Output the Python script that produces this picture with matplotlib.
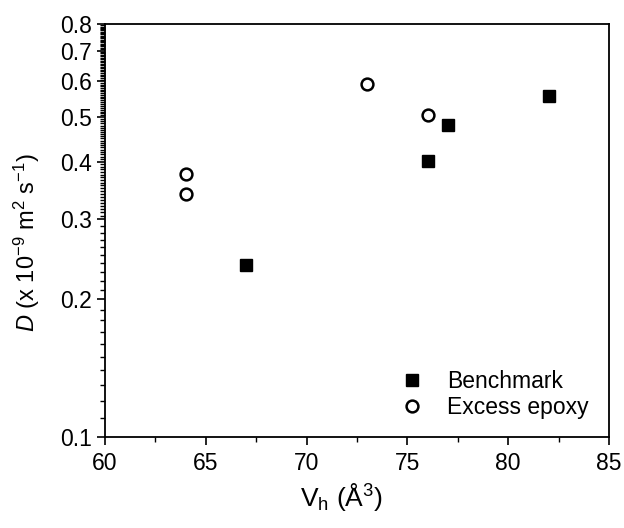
import numpy as np
import matplotlib
matplotlib.use("Agg")
import matplotlib.pyplot as plt
from matplotlib.ticker import FixedLocator, MultipleLocator, FormatStrFormatter, NullFormatter

plt.rcParams['font.family'] = ['Liberation Sans', 'DejaVu Sans']
plt.rcParams['mathtext.fontset'] = 'custom'
plt.rcParams['mathtext.rm'] = 'Liberation Sans'
plt.rcParams['mathtext.it'] = 'Liberation Sans:italic'

# hole volume (A^3) vs diffusion coefficient (1e-9 m^2/s)
bench_vh = [67, 76, 77, 82]
bench_d = [0.238, 0.402, 0.482, 0.557]
excess_vh = [64, 64, 73, 76]
excess_d = [0.376, 0.340, 0.592, 0.507]

y_major = [0.1, 0.2, 0.3, 0.4, 0.5, 0.6, 0.7, 0.8]

fig = plt.figure(figsize=(6.24, 5.28), dpi=100)
ax = fig.add_axes([0.168, 0.172, 0.808, 0.7825])

ax.plot(bench_vh, bench_d, 's', color='black', markersize=9, linestyle='none', label='Benchmark')
ax.plot(excess_vh, excess_d, 'o', markerfacecolor='white', markeredgecolor='black',
        markeredgewidth=1.8, markersize=8.5, linestyle='none', label='Excess epoxy')

ax.set_yscale('log')
ax.set_xlim(60, 85)
ax.set_ylim(0.1, 0.8)

ax.xaxis.set_major_locator(MultipleLocator(5))
ax.xaxis.set_minor_locator(MultipleLocator(2.5))
ax.yaxis.set_major_locator(FixedLocator(y_major))
ax.yaxis.set_major_formatter(FormatStrFormatter('%.1f'))
minor = np.concatenate([np.arange(0.11, 0.3, 0.01), np.arange(0.305, 0.8, 0.005)])
ax.yaxis.set_minor_locator(FixedLocator(minor))
ax.yaxis.set_minor_formatter(NullFormatter())

ax.tick_params(which='major', direction='out', length=6, width=1.2, labelsize=16.5,
               top=False, right=False)
ax.tick_params(which='minor', direction='out', length=3.5, width=1.0, top=False, right=False)
ax.tick_params(axis='x', pad=5)
ax.tick_params(axis='y', pad=3)

for s in ax.spines.values():
    s.set_linewidth(1.3)

ax.set_xlabel(r'V$_{\mathrm{h}}$ (Å$^{3}$)', fontsize=19)
ax.xaxis.set_label_coords(0.47, -0.105)
ax.set_ylabel(r'$\mathit{D}$ (x 10$^{-9}$ m$^{2}$ s$^{-1}$)', fontsize=17)
ax.yaxis.set_label_coords(-0.125, 0.47)

ax.legend(loc='lower right', frameon=False, fontsize=16.5, handletextpad=0.5,
          borderaxespad=0.5, labelspacing=0.12, bbox_to_anchor=(1.0, -0.005))

fig.savefig('out.png', dpi=100)
